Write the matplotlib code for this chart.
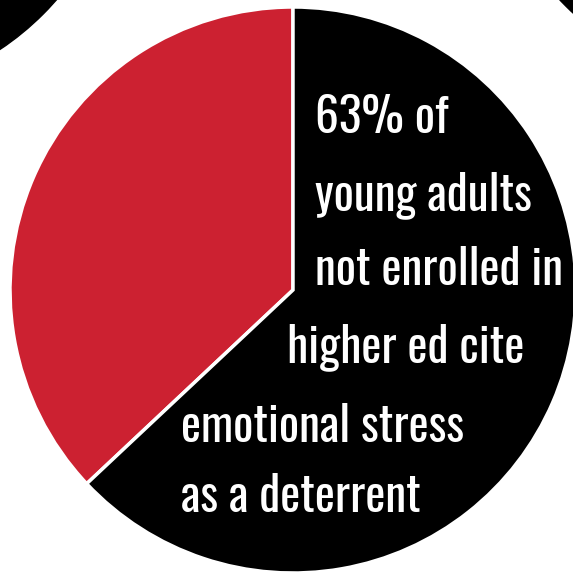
import matplotlib
matplotlib.use('Agg')
from matplotlib import pyplot as plt
from matplotlib.patches import Circle
from matplotlib import font_manager

# pie data
shares = [37, 63]
slice_colors = ['#cc2131', '#000000']

# label lines, left x, baseline y and target width (pixels, from the reference)
label_lines = ['63% of', 'young adults', 'not enrolled in',
               'higher ed cite', 'emotional stress', 'as a deterrent']
label_x = [315, 315, 315, 287, 181, 181]
label_y = [133, 210, 285, 362, 442, 512]
label_w = [117, 225, 253, 238, 292, 244]

# pick the narrowest looking font that is installed
names = {f.name for f in font_manager.fontManager.ttflist}
font = 'DejaVu Sans'
for cand in ['Oswald', 'Roboto Condensed', 'Liberation Sans Narrow',
             'Open Sans Condensed', 'Roboto']:
    if cand in names:
        font = cand
        break

W, H = 573, 575
fig = plt.figure(figsize=(W / 100, H / 100), dpi=100)
ax = fig.add_axes([0, 0, 1, 1])
ax.set_xlim(0, W)
ax.set_ylim(0, H)
ax.set_aspect('equal')
ax.axis('off')

# neighbouring pies peeking in at the corners
ax.add_patch(Circle((-157, H + 186), 283, color='black'))
ax.add_patch(Circle((766, H + 194), 283, color='black'))

ax.pie(shares, colors=slice_colors, startangle=90, counterclock=True,
       center=(293, H - 290), radius=283,
       wedgeprops=dict(edgecolor='white', linewidth=2.5))
ax.set_xlim(0, W)
ax.set_ylim(0, H)

texts = []
for txt, x, y in zip(label_lines, label_x, label_y):
    t = ax.text(x, H - y, txt, color='white', fontsize=30, fontweight='heavy',
                family=[font, 'DejaVu Sans'], fontstretch='condensed',
                ha='left', va='baseline')
    texts.append(t)

# scale the font so the lines come out as wide as in the reference
fig.canvas.draw()
r = fig.canvas.get_renderer()
ratios = [w / t.get_window_extent(r).width for t, w in zip(texts, label_w)]
size = 30 * sum(ratios) / len(ratios)
for t in texts:
    t.set_fontsize(size)

fig.savefig('out.png', dpi=100)
